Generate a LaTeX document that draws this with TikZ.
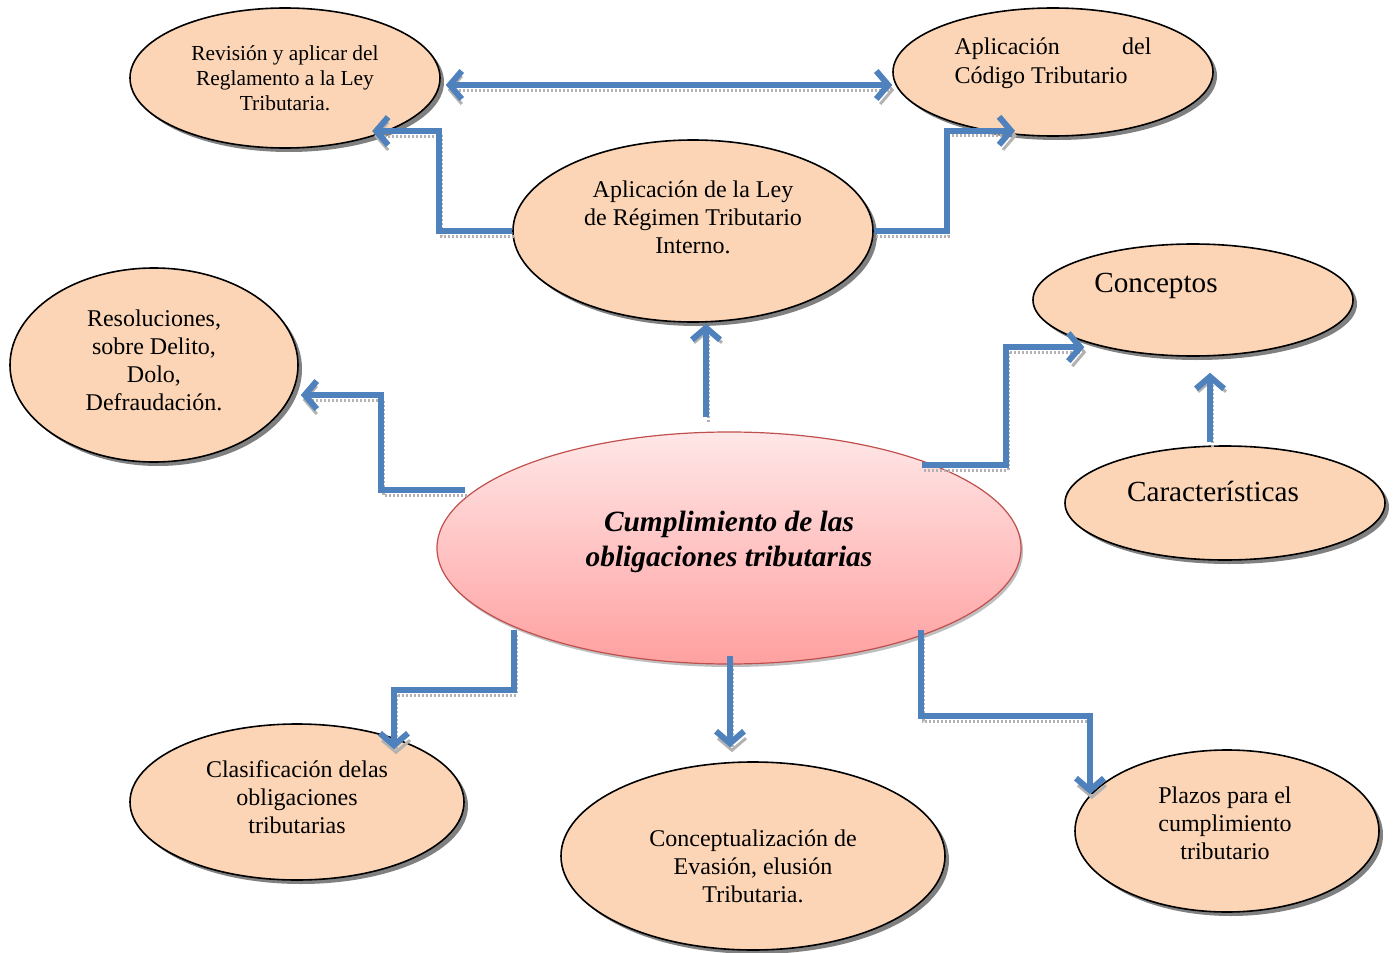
\documentclass[tikz,border=0pt]{standalone}
\usepackage{fontspec}
\setmainfont{Liberation Serif}
\usetikzlibrary{shapes.geometric,shadows,arrows.meta}
\definecolor{durazno}{RGB}{251,213,181}
\definecolor{azul}{RGB}{79,129,189}
\definecolor{rojo}{RGB}{192,80,77}
\definecolor{rosaclaro}{RGB}{255,231,231}
\definecolor{rosa}{RGB}{255,160,160}

\begin{document}
\begin{tikzpicture}
   [x=0.5pt,y=-0.5pt,>={Straight Barb[length=6pt,width=14pt]},
    burbuja/.style 2 args={ellipse,draw=black,line width=0.8pt,fill=durazno,
       minimum width=#1,minimum height=#2,inner sep=0pt,
       drop shadow={shadow xshift=2pt,shadow yshift=-2pt,fill=black!50,opacity=1}},
    texto/.style={align=center,inner sep=0pt,font=\fontsize{12}{14}\selectfont},
    grande/.style={texto,font=\fontsize{14.6}{17}\selectfont},
    flecha/.style={->,draw=azul,line width=3pt,
       preaction={draw=black!30,line width=1.5pt,dash pattern=on 1pt off 1pt,
          transform canvas={shift={(1pt,-2.5pt)}}}}]
   \useasboundingbox (0,0) rectangle (1399,953);

   \node[burbuja={155pt}{70pt}] (rev) at (285,78) {};
   \node[texto,font=\fontsize{10.7}{12.5}\selectfont] (revt) at (285,78)
      {Revisión y aplicar del\\Reglamento a la Ley\\Tributaria.};
   \node[burbuja={160pt}{64pt}] (cod) at (1053,72) {};
   \node[texto,align=left,font=\fontsize{12}{14.5}\selectfont] (codt) at (1053,63)
      {\makebox[98.5pt][l]{Aplicación\hfill del}\\Código Tributario};
   \node[burbuja={180pt}{91pt}] (ley) at (693,231) {};
   \node[texto] (leyt) at (693,217) {Aplicación de la Ley\\de Régimen Tributario\\Interno.};
   \node[burbuja={144pt}{97pt}] (res) at (154,365) {};
   \node[texto] (rest) at (154,360) {Resoluciones,\\sobre Delito,\\Dolo,\\Defraudación.};
   \node[burbuja={160pt}{56pt}] (con) at (1193,300) {};
   \node[grande] (cont) at (1156,286) {Conceptos};
   \node[burbuja={160pt}{57pt}] (car) at (1225,503) {};
   \node[grande] (cart) at (1213,491) {Características};
   \node[ellipse,draw=rojo,line width=0.6pt,top color=rosaclaro,bottom color=rosa,
      minimum width=292pt,minimum height=116pt,
      drop shadow={shadow xshift=1pt,shadow yshift=-1.5pt,fill=black!25,opacity=1}] (cum) at (729,548) {};
   \node[grande,font=\fontsize{14.7}{17.5}\selectfont\bfseries\itshape] (cumt) at (729,542)
      {Cumplimiento de las\\obligaciones tributarias};
   \node[burbuja={167pt}{78pt}] (cla) at (297,802) {};
   \node[texto] (clat) at (297,797) {Clasificación delas\\obligaciones\\tributarias};
   \node[burbuja={192pt}{94pt}] (eva) at (753,856) {};
   \node[texto] (evat) at (753,866) {Conceptualización de\\Evasión, elusión\\Tributaria.};
   \node[burbuja={152pt}{81pt}] (pla) at (1227,831) {};
   \node[texto] (plat) at (1225,823) {Plazos para el\\cumplimiento\\tributario};

   \draw[flecha,<->] ([shift={(5,7)}]rev.east) -- ([shift={(0,13)}]cod.west);
   \draw[flecha] (ley.west) -- ++(-73,0) |- ([shift={(-23,3)}]rev.south east);
   \draw[flecha] (ley.east) -- ++(73,0) |- ([shift={(-38,-6)}]cod.south);
   \draw[flecha] ([shift={(-23,-14)}]cum.north) -- ([shift={(13,1)}]ley.south);
   \draw[flecha] ([shift={(-264,-58)}]cum.center) -- ++(-84,0) |- ([shift={(2,30)}]res.east);
   \draw[flecha] ([shift={(193,-83)}]cum.center) -- ++(84,0) |- ([shift={(5,7)}]con.south west);
   \draw[flecha] ([shift={(-15,-3)}]car.north) -- ([shift={(17,16)}]con.south);
   \draw[flecha] ([shift={(-215,82)}]cum.center) -- ++(0,60) -| ([shift={(97,26)}]cla.north);
   \draw[flecha] ([shift={(1,-9)}]cum.south) -- ([shift={(-23,-14)}]eva.north);
   \draw[flecha] ([shift={(192,82)}]cum.center) -- ++(0,86) -| ([shift={(-29,21)}]pla.north west);
\end{tikzpicture}
\end{document}
